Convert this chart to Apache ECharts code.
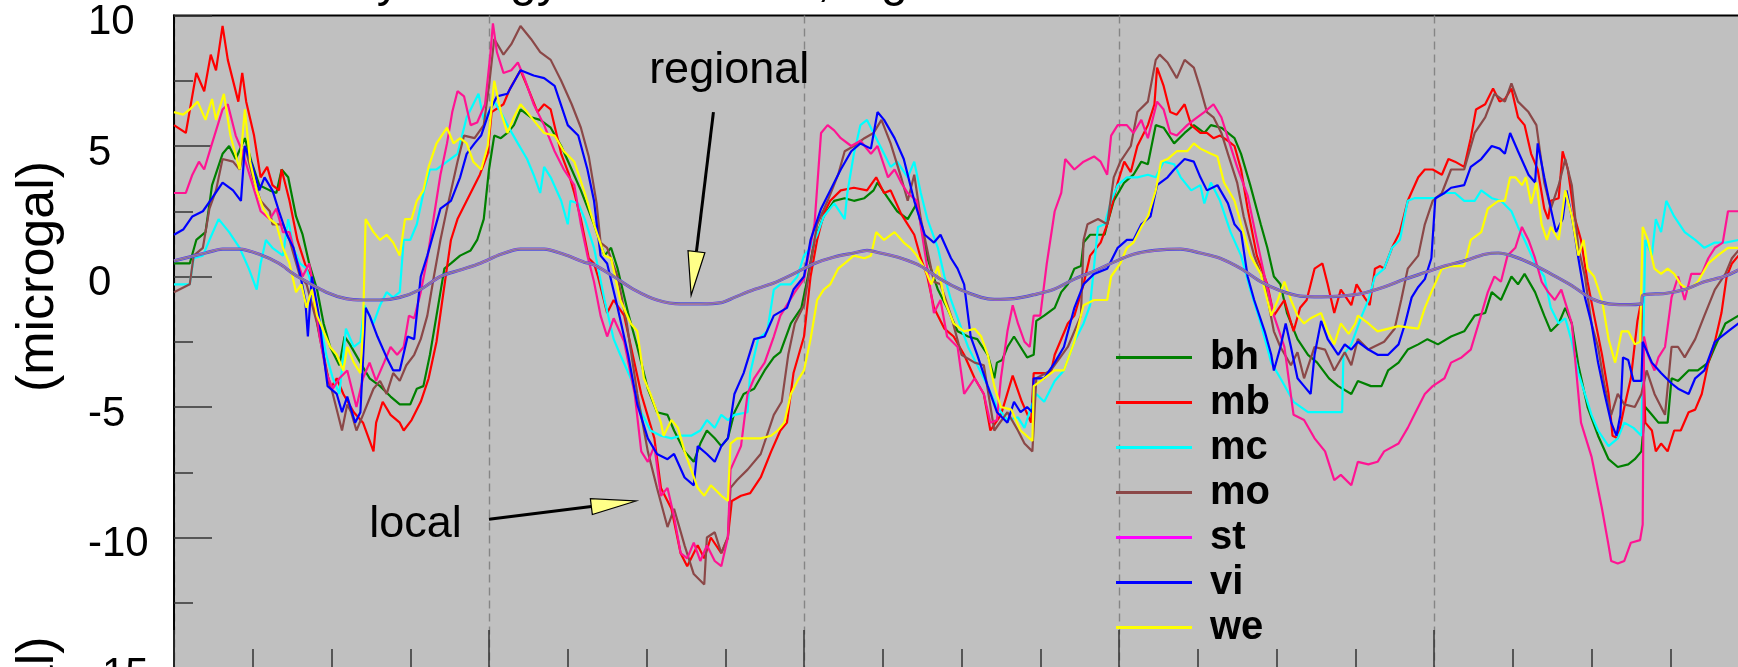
<!DOCTYPE html>
<html>
<head>
<meta charset="utf-8">
<script src="https://cdn.jsdelivr.net/npm/echarts@6/dist/echarts.min.js"></script>
<style>
  html, body { margin: 0; padding: 0; background: #fff; overflow: hidden; width: 1738px; height: 667px; }
  #c { width: 1760px; height: 700px; }
</style>
</head>
<body>
<div id="c"></div>
<script>
// Station codes, drawn in this order (last one on top)
const stations = ['bh', 'mb', 'mc', 'mo', 'st', 'vi', 'we'];

// Local hydrology signal per station: [hour, microgal]
const bh = [[0,0.5],[1.2,0.5],[1.7,1.4],[2.4,1.7],[2.9,3.5],[3.7,4.7],[4.2,5.0],[4.7,4.5],[5.4,5.3],[5.9,4.4],[6.5,3.5],[7.3,3.3],[7.8,3.2],[8.2,4.1],[8.7,3.8],[9.3,2.3],[9.8,1.6],[10.3,0.5],[10.9,-0.5],[11.4,-1.8],[11.9,-2.7],[12.6,-3.4],[13.0,-2.3],[13.4,-2.6],[14.2,-3.3],[14.9,-3.9],[15.7,-4.2],[16.5,-4.6],[17.2,-4.9],[18.0,-4.9],[18.5,-4.3],[19.0,-4.2],[19.5,-3.0],[20.0,-1.5],[20.6,0.3],[21.1,0.5],[21.8,0.8],[22.6,1.0],[23.1,1.4],[23.6,2.2],[24.0,4.1],[24.4,5.4],[24.9,5.3],[25.4,5.5],[25.9,5.8],[26.4,6.4],[27.2,6.1],[27.9,6.0],[28.7,5.7],[29.5,5.0],[30.3,4.1],[31.0,3.3],[32.0,2.0],[32.8,0.8],[33.3,1.1],[33.8,0.3],[34.6,-1.4],[35.3,-2.7],[36.1,-4.3],[36.8,-5.2],[37.6,-5.3],[38.1,-5.9],[38.9,-6.7],[39.6,-7.1],[40.1,-6.4],[40.6,-5.9],[41.2,-6.2],[41.7,-6.5],[42.2,-6.2],[42.7,-5.2],[43.4,-4.5],[44.2,-4.3],[45.0,-3.6],[45.7,-3.1],[46.2,-2.9],[47.0,-1.8],[47.8,-1.2],[48.3,0],[48.8,1.4],[49.5,2.3],[50.3,2.9],[51.1,3.0],[51.8,2.9],[52.6,3.0],[53.3,3.3],[53.6,3.6],[54.4,3.0],[55.1,2.5],[55.9,2.2],[56.6,2.8],[57.4,0.7],[58.2,-0.5],[58.9,-1.2],[59.7,-2.1],[60.5,-2.3],[61.2,-2.4],[62.0,-3.0],[62.5,-3.9],[62.7,-3.3],[63.1,-3.2],[63.5,-2.7],[64.0,-2.3],[64.5,-2.7],[65.0,-3.1],[65.5,-3.0],[65.7,-1.7],[66.3,-1.5],[67.1,-1.2],[67.6,-0.6],[68.1,-0.3],[68.6,0.3],[69.1,0.4],[69.3,1.3],[69.8,1.6],[70.9,1.6],[71.1,2.0],[71.6,2.9],[72.4,3.6],[73.1,3.9],[73.7,4.4],[74.2,4.3],[74.8,5.8],[75.4,5.7],[76.2,5.1],[77.0,5.5],[77.7,5.8],[78.5,5.5],[79.0,5.8],[79.8,5.7],[80.3,5.5],[80.8,5.3],[81.3,4.7],[82.0,3.5],[82.8,2.0],[83.3,1.1],[83.8,0],[84.3,-0.3],[84.8,-1.4],[85.6,-2.4],[86.4,-3.0],[87.1,-3.3],[88.0,-3.9],[88.7,-4.2],[89.7,-4.5],[90.2,-4.0],[91.2,-4.2],[92.0,-4.2],[92.5,-3.6],[93.3,-3.3],[94.0,-2.8],[94.8,-2.6],[95.5,-2.4],[96.3,-2.6],[97.3,-2.3],[98.3,-2.1],[99.1,-1.5],[99.9,-1.4],[100.4,-0.6],[101.1,-0.9],[101.9,0],[102.4,-0.3],[102.9,0.1],[103.7,-0.6],[104.4,-1.5],[104.9,-2.1],[105.5,-1.8],[106.0,-1.2],[106.5,-1.8],[107.0,-3.4],[107.7,-5.0],[108.5,-6.1],[109.3,-7.0],[110.0,-7.3],[110.8,-7.2],[111.3,-7.0],[111.8,-6.7],[112.1,-5.0],[112.6,-5.3],[113.1,-5.6],[113.8,-5.6],[114.1,-3.9],[114.6,-4.0],[115.4,-3.6],[116.1,-3.6],[116.9,-3.3],[117.4,-2.7],[118.2,-1.8],[119.2,-1.5]];

const mb = [[0,5.8],[0.9,5.5],[1.7,7.8],[2.3,7.1],[2.8,8.5],[3.2,7.9],[3.7,9.6],[4.1,8.3],[4.9,6.7],[5.2,7.8],[5.5,6.7],[6.1,5.4],[6.6,3.8],[7.1,4.2],[7.5,3.5],[8.0,3.3],[8.2,4.1],[8.8,2.9],[9.4,1.4],[10.1,0.3],[10.5,0],[10.8,-1.5],[11.4,-3.0],[11.9,-4.3],[12.4,-3.9],[12.9,-4.5],[13.7,-5.2],[14.4,-5.6],[15.2,-6.7],[15.4,-5.6],[15.9,-4.8],[16.5,-5.3],[17.2,-5.6],[17.5,-5.9],[18.1,-5.5],[18.8,-4.8],[19.4,-3.9],[20.0,-2.5],[20.7,0],[21.1,1.4],[21.6,2.2],[22.3,2.9],[23.3,3.9],[23.9,4.7],[24.2,6.3],[25.1,6.6],[25.6,7.2],[26.4,7.9],[26.9,7.3],[27.7,6.3],[28.2,6.6],[28.7,6.4],[29.5,4.7],[30.1,3.9],[30.5,3.2],[31.0,2.2],[31.6,0.7],[32.0,0.5],[32.3,0],[33.0,-1.4],[33.5,-0.9],[34.3,-1.5],[35.6,-4.5],[36.6,-6.2],[37.1,-8.1],[37.9,-8.9],[38.6,-10.6],[39.1,-11.1],[39.9,-10.3],[40.4,-10.8],[40.9,-10.0],[41.7,-10.6],[42.2,-10.0],[42.5,-8.6],[43.2,-8.4],[43.9,-8.3],[44.7,-7.7],[45.5,-6.7],[46.2,-5.9],[46.7,-5.6],[47.2,-3.7],[48.0,-2.3],[48.5,0],[49.0,1.4],[49.5,2.4],[50.0,2.9],[50.8,3.3],[51.8,3.4],[52.8,3.3],[53.5,3.8],[54.1,3.2],[54.6,3.3],[55.4,2.4],[55.9,2.0],[56.4,1.6],[56.9,0.7],[57.4,0],[57.9,-1.2],[58.7,-2.0],[59.4,-2.3],[60.2,-3.0],[61.0,-3.9],[61.7,-4.5],[62.2,-5.9],[63.0,-5.3],[63.9,-3.8],[64.6,-4.8],[65.3,-5.6],[65.5,-3.7],[66.8,-3.7],[67.1,-3.0],[68.1,-1.8],[68.6,-1.5],[69.3,-0.3],[69.8,0.8],[70.6,1.3],[71.1,2.0],[71.9,3.6],[72.4,4.4],[72.9,4.0],[73.4,5.0],[74.2,5.8],[74.7,6.6],[74.9,8.0],[75.4,7.3],[75.9,6.3],[76.4,6.2],[77.0,6.6],[77.5,5.8],[78.2,5.5],[78.7,5.5],[79.2,5.3],[79.7,5.4],[80.3,5.2],[80.8,5.0],[81.3,4.1],[81.8,2.6],[82.5,0.8],[83.3,-0.3],[83.8,-1.5],[84.6,-0.9],[85.3,-2.1],[85.8,-1.2],[86.3,-0.9],[86.9,0.3],[87.5,0.5],[87.9,-0.3],[88.4,-1.4],[88.9,-0.5],[89.7,-1.1],[90.1,-0.3],[90.7,-0.8],[91.1,-1.1],[91.5,0.3],[91.9,0.4],[92.2,0.3],[92.8,1.1],[93.4,1.7],[94.0,2.9],[94.8,3.8],[95.3,4.1],[95.9,4.1],[96.6,3.9],[97.1,4.5],[97.6,4.4],[98.3,4.2],[98.8,5.3],[99.2,6.4],[99.9,6.6],[100.5,7.2],[101.0,6.7],[101.4,6.8],[101.9,7.2],[102.4,6.1],[102.9,5.8],[103.4,4.7],[103.9,4.1],[104.4,2.6],[104.7,2.2],[104.9,2.9],[105.5,3.0],[105.8,4.8],[106.2,4.1],[106.7,2.3],[107.2,1.4],[107.7,-0.2],[108.2,-1.5],[108.8,-3.0],[109.3,-4.5],[109.6,-6.1],[110.0,-6.2],[110.5,-5.0],[111.0,-3.9],[111.5,-1.7],[111.8,-0.9],[112.1,-5.6],[112.6,-5.9],[112.9,-6.7],[113.3,-6.4],[113.8,-6.7],[114.3,-5.9],[114.8,-5.9],[115.4,-5.2],[115.9,-5.1],[116.4,-4.5],[116.9,-3.3],[117.4,-2.5],[117.9,-1.4],[118.3,0],[118.7,0.5],[119.2,0.8]];

const mc = [[0,-0.3],[1.2,-0.3],[1.5,0.7],[2.2,0.8],[2.7,1.4],[3.4,2.2],[4.2,1.7],[5.0,1.1],[5.7,0.3],[6.3,-0.5],[6.6,0.5],[7.0,1.4],[7.5,1.1],[8.3,0.8],[8.7,2.2],[9.1,1.1],[9.6,0.5],[10.1,0.3],[10.6,-0.5],[11.1,-1.7],[11.6,-3.0],[12.1,-3.9],[12.6,-4.5],[13.1,-2.0],[13.7,-2.7],[14.2,-2.5],[14.5,-1.1],[15.2,-1.8],[15.7,-1.1],[16.2,-0.6],[16.7,-0.8],[17.2,-0.6],[17.5,1.4],[18.0,1.4],[18.5,2.0],[19.0,3.2],[19.5,4.1],[20.0,4.1],[20.8,4.4],[21.6,4.7],[22.3,6.1],[22.8,6.6],[23.2,7.0],[23.6,6.0],[24.0,6.3],[24.4,6.7],[24.9,6.3],[25.4,5.8],[26.2,5.1],[26.9,4.5],[27.4,3.9],[27.9,3.2],[28.2,4.2],[28.7,3.8],[29.5,2.9],[30.0,2.0],[30.2,2.9],[30.8,2.8],[31.3,2.2],[32.0,1.1],[32.8,-0.9],[33.5,-2.4],[34.0,-3.0],[34.8,-3.9],[35.6,-5.2],[36.3,-5.9],[37.1,-6.1],[37.9,-6.2],[38.6,-6.1],[39.4,-6.1],[40.1,-5.9],[40.6,-5.5],[41.2,-5.8],[41.7,-5.3],[42.2,-5.5],[42.7,-5.3],[43.7,-5.2],[43.9,-3.7],[44.5,-2.4],[45.2,-2.1],[45.7,-0.5],[46.2,-0.3],[47.0,-0.3],[47.5,0],[48.0,0.8],[48.5,1.1],[49.0,1.6],[49.5,2.3],[50.3,2.8],[51.1,2.2],[51.3,3.2],[51.8,4.7],[52.3,5.8],[52.8,6.0],[53.3,5.5],[54.1,4.7],[54.6,4.2],[55.1,4.4],[55.9,3.8],[56.4,4.4],[56.9,3.2],[57.4,2.2],[58.2,1.1],[58.7,0],[59.2,-0.9],[60.0,-2.0],[60.5,-2.7],[61.2,-3.4],[62.0,-4.2],[62.7,-5.0],[63.5,-5.5],[64.3,-5.4],[64.8,-5.8],[65.3,-5.0],[65.7,-4.5],[66.3,-4.8],[67.1,-4.0],[67.8,-3.6],[68.6,-2.5],[69.3,-1.8],[69.8,-1.1],[70.4,1.9],[70.9,2.0],[71.4,2.9],[71.9,3.5],[72.6,3.8],[73.4,3.8],[74.2,3.9],[74.8,3.8],[75.4,4.4],[76.2,4.3],[76.7,3.8],[77.5,3.3],[78.2,3.5],[78.5,2.8],[79.0,3.6],[79.7,2.9],[80.5,1.7],[81.3,0.8],[82.0,-0.5],[82.8,-1.8],[83.6,-3.3],[84.3,-3.9],[85.3,-4.8],[86.4,-5.2],[87.6,-5.2],[89.0,-5.2],[89.1,-3.0],[89.7,-2.6],[90.5,-1.5],[91.0,-0.9],[91.5,0],[92.2,0.3],[92.8,1.1],[93.4,1.4],[94.0,2.9],[94.5,3.0],[96.1,3.0],[96.8,3.2],[97.6,3.2],[98.3,2.9],[99.1,2.9],[99.6,3.3],[100.4,3.0],[101.1,2.9],[101.9,2.5],[102.4,1.9],[102.9,1.4],[103.7,0.5],[104.4,0],[104.9,-1.2],[105.5,-1.8],[106.0,-1.6],[106.5,-2.5],[107.0,-3.7],[107.5,-4.5],[108.0,-5.3],[108.5,-5.9],[109.3,-6.5],[110.0,-6.2],[110.5,-5.6],[111.2,-5.8],[111.8,-6.1],[112.1,1.4],[112.6,0.8],[112.9,2.2],[113.3,1.7],[113.7,2.9],[114.3,2.3],[115.1,1.7],[115.9,1.4],[116.6,1.1],[117.4,1.3],[118.2,1.3],[119.2,1.4]];

const mo = [[0,-0.6],[1.2,-0.3],[1.5,0.8],[2.2,1.1],[2.7,2.6],[3.2,3.3],[3.7,4.5],[4.5,4.4],[5.0,4.1],[5.4,5.0],[6.0,3.8],[6.6,2.9],[7.3,2.5],[7.5,2.0],[8.3,2.0],[8.8,1.4],[9.6,0],[10.1,-0.3],[10.9,-1.8],[11.6,-3.6],[12.1,-4.5],[12.8,-5.9],[13.2,-4.9],[13.5,-5.2],[13.9,-5.9],[14.4,-5.3],[15.2,-4.3],[15.7,-4.0],[16.2,-4.5],[16.7,-3.7],[17.2,-4.0],[17.7,-3.4],[18.3,-3.0],[18.8,-2.4],[19.3,-1.5],[19.8,0],[20.3,1.4],[20.8,2.6],[21.6,4.4],[22.1,5.4],[22.9,5.3],[23.6,5.8],[24.0,7.3],[24.4,9.1],[25.1,8.5],[25.7,8.9],[26.4,9.6],[27.2,9.1],[27.9,8.6],[28.7,8.3],[29.5,7.5],[30.3,6.6],[31.0,5.7],[31.6,4.6],[32.2,2.8],[32.5,1.3],[33.0,1.1],[33.8,0],[34.5,-1.8],[35.3,-4.5],[36.1,-6.7],[36.8,-8.1],[37.6,-9.6],[38.1,-8.9],[38.9,-10.3],[39.6,-11.4],[40.4,-11.8],[40.6,-10.0],[41.2,-9.8],[41.7,-10.6],[42.2,-10.0],[42.4,-8.1],[42.9,-7.8],[43.7,-7.4],[44.7,-6.8],[45.7,-5.3],[46.3,-4.8],[46.8,-3.0],[47.3,-1.8],[48.0,-1.1],[48.5,0.5],[49.0,2.0],[49.8,2.9],[50.6,3.9],[51.1,4.8],[51.8,5.0],[52.6,5.3],[53.3,5.5],[53.9,6.0],[54.6,5.1],[55.4,3.8],[55.9,2.9],[56.4,3.9],[56.9,2.2],[57.4,1.0],[57.9,-0.2],[58.4,-0.3],[59.2,-1.5],[60.0,-3.0],[61.0,-3.3],[61.7,-3.4],[62.5,-5.9],[63.5,-5.2],[64.3,-5.9],[64.8,-6.4],[65.4,-6.7],[65.7,-3.9],[66.8,-3.6],[68.1,-2.7],[69.1,-1.5],[69.3,1.4],[69.6,2.0],[70.4,2.2],[71.1,2.0],[71.6,3.8],[72.1,4.4],[72.9,5.0],[73.4,6.3],[74.2,6.7],[74.8,8.3],[75.1,8.5],[75.7,8.2],[76.4,7.6],[77.0,8.3],[77.7,8.0],[78.2,7.2],[78.7,6.3],[79.2,6.1],[79.8,5.5],[80.3,4.7],[81.0,3.6],[81.5,2.3],[82.3,0.8],[83.1,-0.3],[83.8,-2.1],[84.3,-2.7],[85.1,-3.4],[85.6,-2.9],[86.1,-3.9],[86.9,-2.7],[87.7,-2.8],[88.4,-3.6],[89.2,-2.9],[89.7,-3.4],[90.2,-2.4],[91.0,-2.8],[92.2,-2.5],[93.0,-2.0],[93.5,-0.9],[94.0,0.3],[94.8,0.8],[95.3,2.0],[95.9,2.9],[96.6,3.2],[97.3,4.1],[98.3,4.1],[99.1,5.5],[99.9,6.1],[100.6,7.0],[101.4,6.7],[101.9,7.4],[102.4,6.7],[103.2,6.3],[103.8,5.8],[104.4,3.6],[104.9,2.6],[105.5,3.5],[106.0,4.5],[106.5,3.5],[107.0,1.1],[107.5,0],[108.0,-1.8],[108.5,-2.7],[109.0,-4.2],[109.5,-5.3],[110.0,-4.5],[110.5,-4.9],[111.3,-5.0],[111.8,-4.5],[112.2,-3.6],[112.8,-4.5],[113.6,-5.3],[114.1,-2.7],[114.6,-2.7],[115.1,-3.1],[115.9,-2.4],[116.6,-1.5],[117.4,-0.5],[118.2,0.1],[118.7,0.7],[119.2,1.0]];

const st = [[0,3.2],[0.9,3.2],[1.4,3.9],[1.9,4.4],[2.3,4.1],[2.9,5.1],[3.7,6.4],[4.1,6.6],[4.7,5.4],[5.2,4.8],[6.0,3.5],[6.6,2.5],[7.3,2.2],[7.8,2.6],[8.3,1.7],[8.8,1.7],[9.3,0.7],[9.8,0],[10.3,0.5],[10.6,-0.3],[11.1,-2.3],[11.6,-3.7],[12.1,-4.3],[12.6,-3.9],[13.2,-3.6],[13.9,-5.0],[14.4,-3.9],[14.9,-3.3],[15.4,-4.0],[16.0,-3.3],[16.5,-2.7],[17.0,-3.0],[17.5,-2.7],[17.9,-1.5],[18.3,-1.6],[18.8,-0.6],[19.3,0.7],[19.8,2.3],[20.3,3.9],[20.8,5.1],[21.2,6.3],[21.6,7.1],[22.1,6.9],[22.6,5.8],[23.1,5.9],[23.7,6.6],[24.1,8.5],[24.3,9.7],[24.6,8.6],[25.1,7.8],[25.7,7.9],[26.2,8.2],[26.7,7.6],[27.4,6.6],[28.2,5.8],[29.0,4.8],[29.7,4.1],[30.5,3.5],[31.0,2.0],[31.5,0.8],[32.0,-0.2],[32.5,-1.5],[33.0,-2.3],[33.5,-1.6],[34.3,-2.5],[35.1,-4.5],[35.6,-6.7],[36.1,-7.1],[36.6,-6.5],[37.1,-8.4],[37.6,-8.1],[38.1,-9.2],[38.6,-10.6],[39.1,-10.8],[39.6,-10.2],[40.1,-10.9],[40.6,-10.3],[41.2,-10.9],[41.7,-11.1],[42.2,-10.0],[42.4,-7.4],[43.2,-6.5],[43.7,-4.5],[44.2,-3.9],[45.0,-3.3],[45.7,-2.3],[46.2,-1.5],[47.3,-0.6],[48.0,-0.1],[48.8,2.0],[49.3,5.5],[49.8,5.8],[50.3,5.6],[50.8,5.3],[51.6,5.0],[52.3,5.2],[53.1,4.7],[53.6,5.0],[54.4,3.8],[54.9,4.1],[55.4,3.6],[55.9,3.2],[56.6,2.9],[57.4,0.3],[57.9,-1.4],[58.4,-0.9],[58.9,-2.3],[59.7,-2.7],[60.2,-4.5],[61.0,-3.9],[61.7,-4.5],[62.2,-5.6],[62.7,-5.5],[63.0,-3.9],[63.5,-2.1],[63.9,-1.1],[64.3,-1.8],[64.8,-2.5],[65.2,-2.7],[65.5,-1.5],[66.0,-1.5],[66.5,0.5],[67.1,2.5],[67.6,3.2],[67.9,4.5],[68.6,4.1],[69.3,4.4],[70.1,4.6],[70.6,4.4],[71.1,3.9],[71.4,5.4],[71.9,5.8],[72.6,5.8],[73.1,5.5],[73.7,6.0],[74.2,5.3],[74.9,6.7],[75.4,6.4],[75.9,5.5],[76.4,5.4],[77.2,5.8],[77.7,6.0],[78.5,6.3],[79.2,6.6],[79.8,6.1],[80.3,5.3],[81.0,4.2],[81.8,3.1],[82.5,1.4],[83.1,0],[83.8,-1.5],[84.6,-2.7],[85.3,-5.3],[86.1,-5.5],[86.9,-6.2],[87.7,-6.7],[88.4,-7.8],[88.9,-7.6],[89.7,-8.0],[90.2,-7.1],[91.0,-7.2],[91.7,-7.1],[92.2,-6.7],[93.3,-6.4],[94.0,-5.8],[94.5,-5.3],[95.3,-4.5],[95.9,-4.2],[96.8,-3.9],[97.3,-3.3],[98.1,-3.1],[98.8,-2.8],[99.4,-1.8],[100.1,-0.6],[100.6,0],[101.1,-0.2],[101.6,0.8],[102.2,1.1],[102.7,1.9],[103.2,1.4],[103.7,0.7],[104.2,-0.2],[104.7,-0.6],[105.2,-0.9],[105.7,-0.5],[106.5,-1.8],[107.2,-5.6],[108.0,-6.9],[108.8,-8.9],[109.3,-10.3],[109.5,-10.9],[110.0,-11.0],[110.5,-10.9],[111.0,-10.2],[111.7,-10.1],[111.9,-9.5],[112.0,-2.3],[112.3,-3.0],[112.8,-3.6],[113.1,-3.1],[113.6,-2.7],[114.1,-0.8],[114.6,0],[115.1,-0.9],[115.6,0.1],[116.4,0.1],[116.9,0.7],[117.4,1.1],[118.0,1.3],[118.4,2.5],[119.2,2.5]];

const vi = [[0,1.6],[0.7,1.8],[1.4,2.3],[2.2,2.5],[2.9,3.0],[3.7,3.6],[4.5,3.3],[5.1,2.9],[5.4,5.0],[6.0,4.2],[6.5,3.3],[6.9,3.8],[7.5,3.3],[8.0,2.5],[8.6,1.6],[9.1,1.1],[9.6,0.1],[10.0,-0.9],[10.2,-2.3],[10.5,0],[11.0,-1.4],[11.4,-3.0],[11.7,-4.2],[12.4,-4.5],[12.8,-5.2],[13.2,-4.6],[13.8,-5.6],[14.2,-5.2],[14.6,-1.2],[14.9,-1.5],[15.5,-2.3],[16.2,-3.1],[16.7,-3.6],[17.2,-3.6],[17.8,-2.3],[18.3,-2.4],[18.8,0],[19.3,0.8],[19.8,1.7],[20.3,2.6],[21.1,2.9],[21.8,3.8],[22.3,4.7],[22.9,5.1],[23.4,5.4],[24.0,6.3],[24.6,6.9],[25.4,7.0],[26.4,7.9],[27.4,7.7],[28.2,7.6],[29.0,7.3],[30.0,5.8],[30.8,5.4],[31.5,4.1],[32.0,2.9],[32.5,0.8],[33.0,0.5],[33.8,-1.2],[34.6,-3.0],[35.3,-4.9],[36.1,-6.2],[36.8,-6.8],[37.6,-7.0],[38.1,-6.8],[38.9,-7.7],[39.6,-8.0],[39.9,-6.5],[40.6,-6.8],[41.2,-7.1],[41.7,-6.5],[42.2,-6.2],[42.7,-4.5],[43.4,-3.7],[44.2,-2.4],[45.0,-2.3],[45.7,-1.5],[46.7,-1.2],[47.2,-0.5],[48.0,0],[48.5,1.4],[49.3,2.6],[50.0,3.3],[50.8,4.1],[51.6,4.8],[52.3,5.1],[53.1,4.9],[53.6,6.3],[54.1,6.0],[54.9,5.3],[55.6,4.5],[56.4,2.9],[57.2,1.6],[57.9,1.3],[58.4,1.6],[59.2,0.7],[59.7,0.3],[60.2,-0.3],[60.7,-2.3],[61.2,-3.0],[62.0,-4.2],[62.7,-5.2],[63.5,-5.6],[64.0,-4.8],[64.5,-5.2],[65.0,-5.0],[65.4,-5.2],[65.5,-3.9],[66.3,-3.9],[67.1,-3.3],[67.8,-2.7],[68.6,-1.2],[69.3,-0.3],[70.1,0.1],[71.1,0.3],[71.9,1.1],[72.6,1.4],[73.1,1.4],[73.7,2.0],[74.4,2.3],[74.9,3.5],[75.7,3.8],[76.2,4.1],[77.0,4.5],[77.7,4.4],[78.2,3.8],[78.7,3.3],[79.5,3.5],[80.3,2.8],[80.8,2.0],[81.3,1.7],[81.8,0],[82.3,-0.9],[83.1,-2.1],[83.6,-3.0],[83.8,-3.6],[84.3,-2.7],[84.7,-1.8],[85.1,-2.7],[85.6,-3.9],[86.1,-4.2],[86.6,-4.5],[86.9,-3.0],[87.4,-1.7],[87.9,-2.4],[88.7,-3.0],[89.2,-2.6],[89.7,-2.8],[90.2,-2.5],[91.0,-2.8],[91.7,-3.0],[92.5,-3.0],[93.3,-2.6],[93.8,-1.8],[94.3,-0.8],[94.8,-0.4],[95.3,-0.1],[95.8,0.7],[96.1,3.0],[96.8,3.2],[97.3,3.4],[98.3,3.5],[98.8,4.2],[99.6,4.5],[100.4,5.0],[101.0,4.9],[101.4,4.7],[101.8,5.5],[102.4,4.8],[103.2,3.9],[103.7,3.6],[103.9,5.1],[104.4,3.8],[104.9,2.6],[105.3,1.7],[105.8,2.2],[106.1,3.3],[106.6,2.0],[107.0,0.7],[107.5,-0.8],[108.0,-1.8],[108.5,-3.3],[109.0,-4.5],[109.5,-5.6],[109.9,-6.1],[110.2,-5.3],[110.4,-3.1],[110.8,-3.2],[111.2,-4.0],[111.8,-4.0],[111.9,-2.5],[112.6,-3.3],[113.3,-3.7],[114.1,-4.1],[114.6,-4.3],[115.4,-4.5],[115.9,-3.9],[116.6,-3.6],[117.4,-2.5],[118.4,-2.1],[119.2,-1.8]];

const we = [[0,6.3],[0.7,6.2],[1.2,6.4],[1.8,6.7],[2.4,6.0],[2.9,6.8],[3.2,6.0],[3.8,7.0],[4.3,5.4],[5.0,4.1],[5.4,6.4],[5.8,4.4],[6.3,3.3],[6.8,2.6],[7.3,2.2],[7.8,2.0],[8.3,1.1],[8.8,0.5],[9.3,-0.6],[9.7,-0.3],[10.1,-1.2],[10.5,-0.5],[10.9,-1.5],[11.4,-2.1],[11.9,-2.7],[12.4,-3.0],[12.9,-3.6],[13.2,-2.7],[13.7,-3.3],[14.2,-3.7],[14.4,-2.0],[14.6,2.2],[15.2,1.7],[15.7,1.4],[16.2,1.6],[16.7,1.3],[17.2,0.8],[17.6,2.2],[18.1,2.2],[18.5,2.9],[19.0,3.3],[19.4,4.2],[20.0,5.1],[20.8,5.7],[21.3,5.1],[21.8,5.3],[22.3,5.1],[22.8,4.4],[23.4,4.1],[23.9,5.0],[24.4,7.5],[24.9,6.3],[25.4,5.5],[25.9,6.1],[26.4,6.6],[26.9,6.3],[27.7,5.8],[28.2,5.5],[29.0,5.4],[29.7,4.8],[30.5,4.4],[31.3,3.2],[32.0,2.0],[32.8,0.8],[33.3,0.7],[34.0,-0.9],[34.8,-1.8],[35.3,-2.1],[35.8,-3.9],[36.3,-4.5],[37.1,-5.6],[37.3,-6.1],[37.9,-5.5],[38.4,-5.8],[38.9,-6.7],[39.4,-7.4],[39.9,-8.1],[40.4,-8.4],[40.9,-8.0],[41.7,-8.4],[42.2,-8.6],[42.4,-6.4],[42.9,-6.2],[43.7,-6.2],[44.7,-6.2],[45.5,-6.1],[46.0,-5.9],[46.5,-5.6],[47.0,-4.5],[47.5,-4.0],[48.0,-3.6],[48.5,-2.4],[49.0,-0.9],[49.5,-0.5],[50.0,-0.3],[50.6,0.3],[51.1,0.5],[51.8,0.8],[52.6,0.7],[53.1,0.8],[53.5,1.7],[54.1,1.4],[54.9,1.7],[55.6,1.3],[56.1,1.1],[56.6,0.8],[57.2,0.3],[57.7,-0.3],[58.2,0.4],[58.7,-0.9],[59.4,-1.8],[60.2,-2.1],[61.0,-2.0],[61.5,-2.3],[62.0,-3.0],[62.5,-4.2],[63.0,-5.0],[63.8,-5.1],[64.5,-5.9],[65.4,-6.3],[65.5,-4.2],[66.3,-3.9],[67.1,-3.6],[67.8,-3.6],[68.6,-2.5],[69.3,-1.1],[70.1,-0.9],[71.1,-0.9],[71.4,0],[72.1,0.5],[72.6,1.1],[73.1,1.3],[73.7,1.9],[74.2,2.3],[74.8,3.3],[75.2,4.4],[75.7,4.5],[76.4,4.8],[77.2,4.8],[77.7,5.1],[78.2,4.9],[79.0,4.7],[79.5,4.6],[80.0,3.6],[80.8,2.9],[81.3,2.0],[82.0,0.8],[82.8,0.1],[83.6,-1.5],[84.1,-0.9],[84.6,-0.2],[85.1,-0.9],[85.6,-1.5],[86.1,-1.8],[86.6,-1.6],[87.4,-1.4],[87.9,-2.1],[88.4,-2.6],[88.9,-1.8],[89.5,-2.2],[90.0,-1.8],[90.2,-1.5],[91.0,-1.8],[91.7,-2.1],[93.3,-1.9],[94.8,-2.0],[95.3,-1.2],[95.8,-0.6],[96.6,0.3],[97.3,0.4],[98.3,0.4],[98.8,1.4],[99.6,1.7],[100.1,2.6],[100.9,2.9],[101.4,2.9],[101.8,3.8],[102.2,3.8],[102.7,3.5],[103.0,3.8],[103.4,2.8],[103.8,3.6],[104.2,2.0],[104.6,1.4],[104.9,1.9],[105.5,1.4],[106.0,3.3],[106.5,2.3],[107.0,0.8],[107.4,1.4],[107.7,0.3],[108.2,0],[108.8,-0.9],[109.3,-2.4],[109.8,-3.3],[110.3,-2.1],[110.8,-2.1],[111.3,-2.6],[111.7,-2.5],[111.9,1.9],[112.3,1.4],[112.8,0.3],[113.3,0.1],[113.8,0.3],[114.3,0.1],[114.8,-0.3],[115.4,-0.5],[116.1,-0.2],[116.9,0.5],[117.6,0.8],[118.4,1.1],[119.2,1.1]];

// Regional signal (nearly identical at all stations): [hour, microgal]
const regional = [[0,0.6],[2.4,0.9],[3.7,1.05],[5.0,1.05],[6.5,0.85],[8.0,0.5],[9.1,0.1],[10.1,-0.2],[11.6,-0.6],[13.1,-0.85],[14.4,-0.9],[15.7,-0.9],[17.2,-0.8],[18.75,-0.5],[20.3,0],[21.8,0.25],[23.3,0.5],[24.9,0.85],[26.4,1.05],[28.2,1.05],[29.7,0.85],[31.25,0.55],[32.0,0.45],[33.5,0],[35.05,-0.5],[36.8,-0.9],[38.6,-1.05],[40.1,-1.05],[41.7,-1.0],[42.7,-0.8],[44.2,-0.5],[45.7,-0.25],[47.2,0.1],[48.8,0.5],[50.3,0.75],[51.8,0.9],[52.8,1.0],[53.8,0.9],[55.4,0.7],[56.9,0.4],[58.4,-0.1],[59.9,-0.5],[61.5,-0.8],[62.5,-0.88],[64.0,-0.85],[65.5,-0.7],[67.0,-0.5],[68.6,-0.1],[70.1,0.2],[71.6,0.55],[73.1,0.85],[74.7,1.0],[76.7,1.05],[78.2,0.9],[79.7,0.7],[81.3,0.3],[82.8,-0.2],[84.3,-0.55],[85.8,-0.75],[87.4,-0.78],[88.9,-0.75],[90.5,-0.65],[92.2,-0.4],[93.8,-0.1],[95.3,0.15],[96.8,0.4],[98.3,0.6],[99.9,0.85],[100.9,0.9],[101.9,0.8],[103.4,0.5],[104.9,0.1],[106.5,-0.35],[108.0,-0.85],[109.3,-1.05],[110.5,-1.08],[111.8,-1.05],[111.9,-0.72],[113.6,-0.65],[115.1,-0.5],[116.6,-0.2],[118.1,0.0],[119.2,0.25]];

// Axis ranges: hours on x (one dashed line per day), microgal on y
const xMin = 0, xMax = 120, hoursPerDay = 24, ticksPerDay = 4;
const yMin = -15, yMax = 10, yStep = 5;

// Annotation anchors in data coordinates [hour, microgal]
const regionalLabelAt = [42.3, 7.87];
const regionalArrow = [[41.1, 6.3], [39.4, -0.72]];
const localLabelAt = [18.4, -9.5];
const localArrow = [[24.0, -9.3], [35.2, -8.6]];
const yNameAt = [-10.5, 0];

const localData = { bh, mb, mc, mo, st, vi, we };
const lineColors = { bh: '#008000', mb: '#ff0000', mc: '#00ffff', mo: '#8b4848', st: '#ff1493', vi: '#0000ff', we: '#ffff00' };
const legendColors = { st: '#ff00ff' };

const FONT = "'Liberation Sans', Arial, Helvetica, sans-serif";
const chart = echarts.init(document.getElementById('c'), null, { renderer: 'canvas' });

const series = stations.map(name => ({
  name, type: 'line', data: localData[name], symbol: 'none', showSymbol: false,
  lineStyle: { color: lineColors[name], width: 2.2 }, itemStyle: { color: lineColors[name] },
  animation: false, z: 2
}));
// Regional bundle: layered strokes of the same curve
[['#4a4ae0', 3.2], ['#d070b8', 2.0], ['#7c7a8e', 1.3]].forEach(([c, w], i) => {
  series.push({
    name: 'regional', type: 'line', data: regional, symbol: 'none', smooth: 0.3,
    lineStyle: { color: c, width: w }, silent: true, animation: false, z: 3 + i
  });
});

const tickLine = { color: '#333', width: 1.5 };

chart.setOption({
  animation: false,
  backgroundColor: '#ffffff',
  grid: {
    left: 174, top: 15.5, width: 1575, height: 652.5,
    show: true, backgroundColor: '#c0c0c0', borderColor: '#000', borderWidth: 2
  },
  xAxis: {
    type: 'value', min: xMin, max: xMax, interval: hoursPerDay,
    axisLine: { show: true, onZero: false, lineStyle: { color: '#000', width: 2 } },
    axisTick: { show: true, inside: true, length: 38, lineStyle: tickLine },
    minorTick: { show: true, splitNumber: ticksPerDay, length: 19, lineStyle: tickLine },
    splitLine: { show: true, lineStyle: { color: '#858585', width: 1.4, type: [8, 5] } },
    axisLabel: { show: false }
  },
  yAxis: {
    type: 'value', min: yMin, max: yMax, interval: yStep,
    axisLine: { show: true, onZero: false, lineStyle: { color: '#000', width: 2 } },
    axisTick: { show: true, inside: true, length: 38, lineStyle: tickLine },
    minorTick: { show: true, splitNumber: 2, length: 19, lineStyle: tickLine },
    splitLine: { show: false },
    axisLabel: {
      show: true, showMinLabel: true, showMaxLabel: true,
      fontSize: 42, fontFamily: FONT, color: '#000', align: 'left', margin: 86,
      verticalAlign: 'top', lineHeight: 14
    }
  },
  legend: {
    orient: 'vertical', left: 1111, top: 330, itemWidth: 76, itemHeight: 3, itemGap: 0,
    icon: 'rect', selectedMode: false,
    data: stations.map(n => legendColors[n]
      ? { name: n, itemStyle: { color: legendColors[n] } }
      : n),
    textStyle: { fontSize: 40, fontWeight: 'bold', fontFamily: FONT, color: '#000', lineHeight: 45, padding: [0, 0, 0, 13] }
  },
  series
});

// Annotations placed through the chart's own coordinate system
function toPx(p) { return chart.convertToPixel({ gridIndex: 0 }, p); }
function arrow(fromData, toData, headLen, headWidth) {
  const a = toPx(fromData), b = toPx(toData);
  const dx = b[0] - a[0], dy = b[1] - a[1], len = Math.hypot(dx, dy);
  const ux = dx / len, uy = dy / len, nx = -uy, ny = ux;
  const base = [b[0] - ux * headLen, b[1] - uy * headLen];
  return [
    { type: 'line', z: 20, shape: { x1: a[0], y1: a[1], x2: base[0], y2: base[1] },
      style: { stroke: '#000', lineWidth: 3 } },
    { type: 'polygon', z: 21, shape: { points: [
        b, [base[0] + nx * headWidth / 2, base[1] + ny * headWidth / 2],
        [base[0] - nx * headWidth / 2, base[1] - ny * headWidth / 2]] },
      style: { fill: '#ffff88', stroke: '#000', lineWidth: 1.2 } }
  ];
}
const rl = toPx(regionalLabelAt), ll = toPx(localLabelAt), yn = toPx(yNameAt);
chart.setOption({
  graphic: [
    { type: 'text', z: 20, style: { x: rl[0], y: rl[1], text: 'regional', font: '45px ' + FONT, fill: '#000', textAlign: 'center', textVerticalAlign: 'middle' } },
    { type: 'text', z: 20, style: { x: ll[0], y: ll[1], text: 'local', font: '45px ' + FONT, fill: '#000', textAlign: 'center', textVerticalAlign: 'middle' } },
    ...arrow(regionalArrow[0], regionalArrow[1], 44, 17),
    ...arrow(localArrow[0], localArrow[1], 45, 16),
    { type: 'text', z: 20, style: { x: 294, y: -17, text: 'Daily energy in residuals, high and local', font: '48px ' + FONT, fill: '#000', textAlign: 'left', textVerticalAlign: 'middle' } },
    { type: 'text', z: 20, rotation: Math.PI / 2, x: 39, y: yn[1], style: { x: 0, y: 0, text: '(microgal)', font: '52px ' + FONT, fill: '#000', textAlign: 'center', textVerticalAlign: 'middle' } },
    { type: 'text', z: 20, rotation: Math.PI / 2, x: 39, y: 752, style: { x: 0, y: 0, text: '(microgal)', font: '52px ' + FONT, fill: '#000', textAlign: 'center', textVerticalAlign: 'middle' } }
  ]
});
</script>
</body>
</html>
